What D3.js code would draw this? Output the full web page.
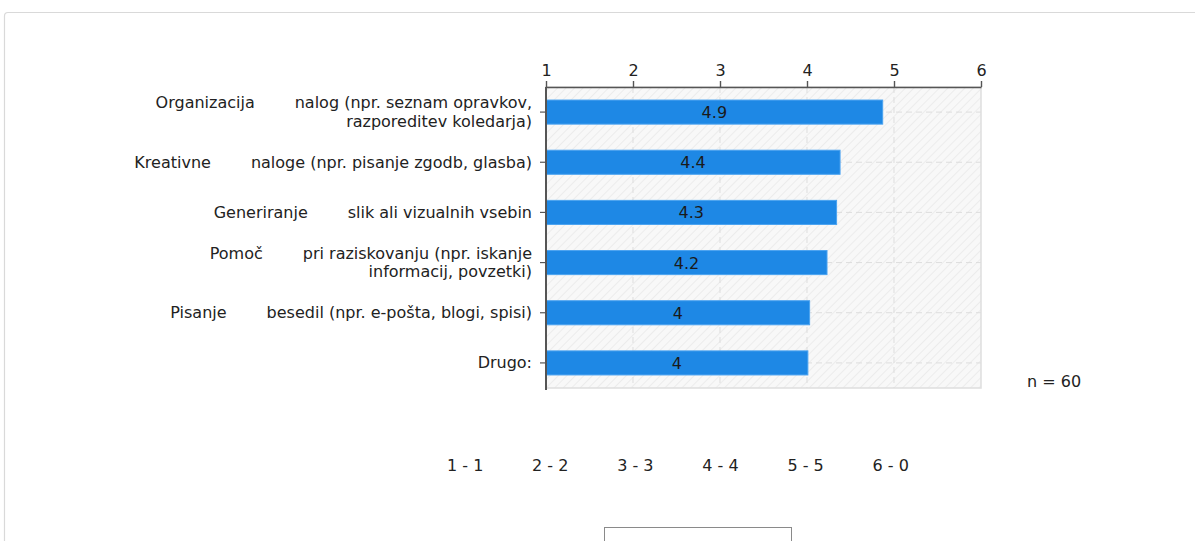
<!DOCTYPE html>
<html>
<head>
<meta charset="utf-8">
<script src="https://cdn.jsdelivr.net/npm/d3@7"></script>
<style>
  html, body { margin: 0; padding: 0; background: #fff; }
  svg { display: block; font-family: "DejaVu Sans", Verdana, sans-serif; }
</style>
</head>
<body>
<svg id="chart" width="1195" height="541"></svg>
<script>
// ---- data ----
const categoryFirst = ["Organizacija", "Kreativne", "Generiranje", "Pomoč", "Pisanje", ""];
const categoryRest = [
  ["nalog (npr. seznam opravkov,", "razporeditev koledarja)"],
  ["naloge (npr. pisanje zgodb, glasba)"],
  ["slik ali vizualnih vsebin"],
  ["pri raziskovanju (npr. iskanje", "informacij, povzetki)"],
  ["besedil (npr. e-pošta, blogi, spisi)"],
  ["Drugo:"]
];
const values = [4.87, 4.38, 4.34, 4.23, 4.03, 4.01];
const xTicks = [1, 2, 3, 4, 5, 6];
const legendLabels = ["1 - 1", "2 - 2", "3 - 3", "4 - 4", "5 - 5", "6 - 0"];
const nLabel = "n = 60";

// ---- layout ----
const svg = d3.select("#chart");
const plotLeft = 546, plotTop = 87, plotW = 435, plotH = 301;
const ids = d3.range(values.length);

const x = d3.scaleLinear().domain([1, 6]).range([plotLeft, plotLeft + plotW]);
const y = d3.scaleBand().domain(ids).range([plotTop, plotTop + plotH]).paddingInner(0.52).paddingOuter(0.26);

// outer frame
svg.append("path")
  .attr("d", "M4.5,541 L4.5,16 Q4.5,12.5 8,12.5 L1195,12.5")
  .attr("fill", "none").attr("stroke", "#d9d9d9").attr("stroke-width", 1.2);

// hatch pattern
const defs = svg.append("defs");
const pat = defs.append("pattern").attr("id", "hatch")
  .attr("patternUnits", "userSpaceOnUse").attr("width", 6).attr("height", 6)
  .attr("patternTransform", "rotate(45)");
pat.append("rect").attr("width", 6).attr("height", 6).attr("fill", "#f8f8f8");
pat.append("line").attr("x1", 0).attr("y1", 0).attr("x2", 0).attr("y2", 6)
  .attr("stroke", "#ececec").attr("stroke-width", 2);

// plot background
svg.append("rect")
  .attr("x", plotLeft).attr("y", plotTop).attr("width", plotW).attr("height", plotH)
  .attr("fill", "url(#hatch)").attr("stroke", "#dedede").attr("stroke-width", 1.5);

// vertical grid
svg.append("g").selectAll("line").data(xTicks.slice(1, -1)).join("line")
  .attr("x1", d => x(d)).attr("x2", d => x(d))
  .attr("y1", plotTop).attr("y2", plotTop + plotH)
  .attr("stroke", "#dddddd").attr("stroke-dasharray", "6,4");

// horizontal grid at category centers
svg.append("g").selectAll("line").data(ids).join("line")
  .attr("x1", plotLeft).attr("x2", plotLeft + plotW)
  .attr("y1", d => y(d) + y.bandwidth() / 2).attr("y2", d => y(d) + y.bandwidth() / 2)
  .attr("stroke", "#dddddd").attr("stroke-dasharray", "6,4");

// bars
svg.append("g").selectAll("rect").data(ids).join("rect")
  .attr("x", x(1)).attr("y", d => y(d))
  .attr("width", d => x(values[d]) - x(1)).attr("height", y.bandwidth())
  .attr("fill", "#1e88e5").attr("stroke", "#4ba3f0").attr("stroke-width", 1);

// value labels
svg.append("g").selectAll("text").data(ids).join("text")
  .attr("x", d => (x(1) + x(values[d])) / 2)
  .attr("y", d => y(d) + y.bandwidth() / 2 + 6)
  .attr("text-anchor", "middle").attr("font-size", 16).attr("fill", "#1a1a1a")
  .text(d => String(+values[d].toFixed(1)));

// top axis
const xAxis = svg.append("g").attr("transform", `translate(0,${plotTop})`)
  .call(d3.axisTop(x).tickValues(xTicks).tickSize(6).tickSizeOuter(0).tickFormat(d3.format("d")));
xAxis.select(".domain").attr("stroke", "#555").attr("stroke-width", 1.6);
xAxis.selectAll(".tick line").attr("stroke", "#555").attr("stroke-width", 1.4);
xAxis.selectAll(".tick text").attr("font-size", 16).attr("fill", "#222")
  .attr("font-family", "DejaVu Sans, Verdana, sans-serif").attr("y", -11).attr("dy", "0");

// left axis
const yAxis = svg.append("g").attr("transform", `translate(${plotLeft},0)`)
  .call(d3.axisLeft(y).tickSize(6).tickSizeOuter(0).tickFormat(""));
yAxis.select(".domain").attr("stroke", "#555").attr("stroke-width", 2)
  .attr("d", `M0,${plotTop}V${plotTop + plotH + 2}`);
yAxis.selectAll(".tick line").attr("stroke", "#555").attr("stroke-width", 1.2);

// category labels
const lineH = 18.8;
const labelX = 532;
ids.forEach(i => {
  const lines = categoryRest[i];
  const cy = y(i) + y.bandwidth() / 2;
  const firstBase = cy + 5.5 - (lines.length - 1) * lineH / 2;
  lines.forEach((ln, j) => {
    const t = svg.append("text").attr("x", labelX).attr("y", firstBase + j * lineH)
      .attr("text-anchor", "end").attr("font-size", 16).attr("fill", "#222");
    if (j === 0 && categoryFirst[i]) {
      t.append("tspan").text(categoryFirst[i]);
      t.append("tspan").attr("dx", 40).text(ln);
    } else {
      t.text(ln);
    }
  });
});

// n label
svg.append("text").attr("x", 1027).attr("y", 387)
  .attr("font-size", 16).attr("fill", "#222").text(nLabel);

// legend row
svg.append("g").selectAll("text").data(legendLabels).join("text")
  .attr("x", (d, i) => 447 + i * 85.1).attr("y", 471)
  .attr("font-size", 16).attr("fill", "#222").text(d => d);

// partial box at bottom
svg.append("rect").attr("x", 604.5).attr("y", 527.5).attr("width", 187).attr("height", 30)
  .attr("fill", "#fff").attr("stroke", "#8a8a8a").attr("stroke-width", 1);
</script>
</body>
</html>
